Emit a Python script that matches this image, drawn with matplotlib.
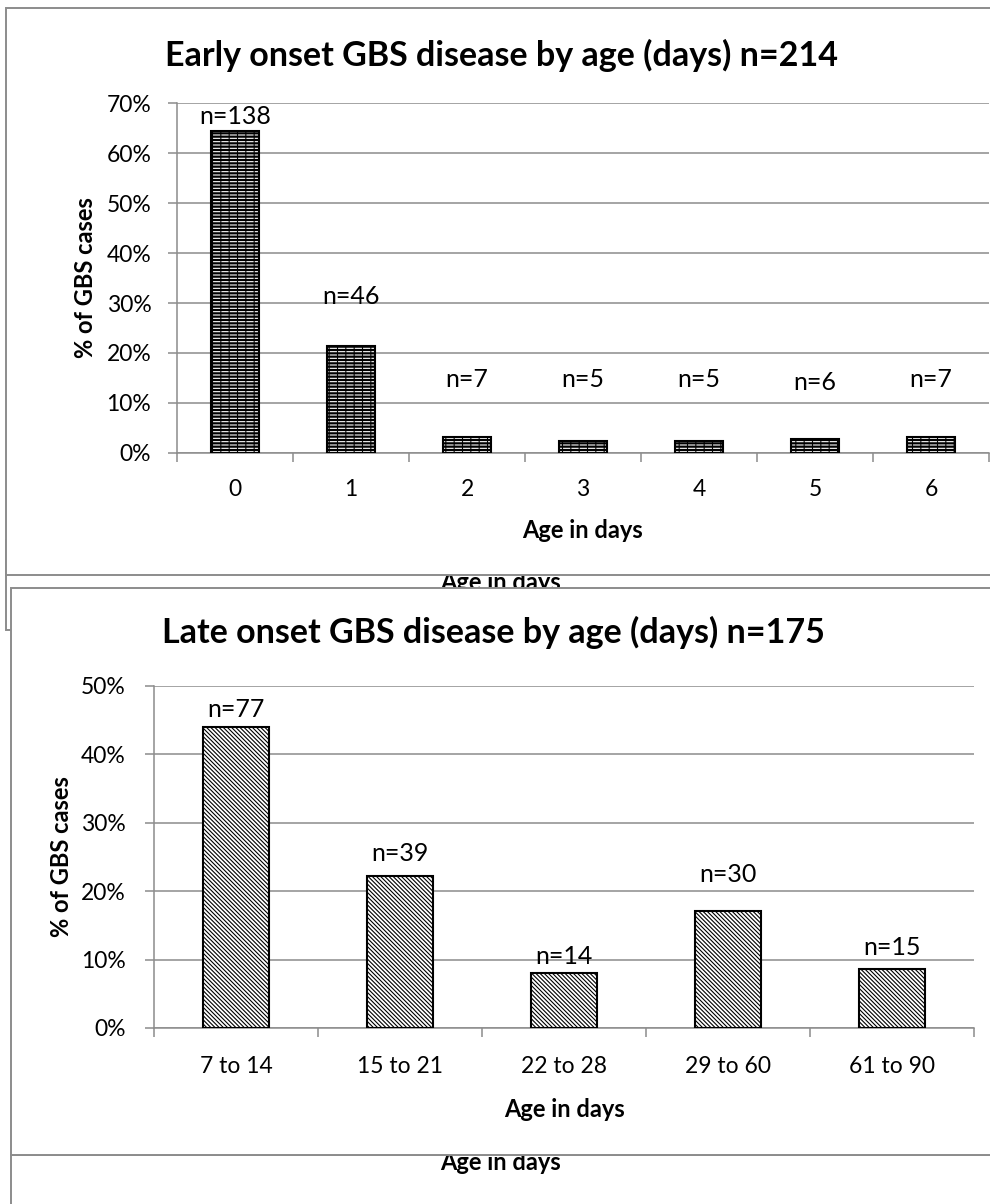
import matplotlib
matplotlib.use("Agg")
import matplotlib.pyplot as plt
from matplotlib.patches import Rectangle
from matplotlib.ticker import PercentFormatter

plt.rcParams["font.family"] = ["Lato", "DejaVu Sans"]
plt.rcParams["hatch.linewidth"] = 0.8

# data
early_ages = ["0", "1", "2", "3", "4", "5", "6"]
early_counts = [138, 46, 7, 5, 5, 6, 7]
early_total = 214

late_ages = ["7 to 14", "15 to 21", "22 to 28", "29 to 60", "61 to 90"]
late_counts = [77, 39, 14, 30, 15]
late_total = 175

# the n= labels were placed by hand in the original (in % units)
early_label_y = [67.2, 31.2, 14.6, 14.6, 14.6, 14.0, 14.6]
late_label_y = [46.6, 25.5, 10.5, 22.5, 11.8]

W, H = 990, 1204
GRAY = "#8c8c8c"


def fx(px):
    return px / W


def fy(py):
    return 1 - py / H


def panel(fig, x0, y0, x1, y1, z):
    fig.patches.append(Rectangle((fx(x0), fy(y1)), fx(x1) - fx(x0), fy(y0) - fy(y1),
                                 transform=fig.transFigure, facecolor="white",
                                 edgecolor=GRAY, linewidth=1.4, zorder=z))


def style_axes(ax, n, ymax, step, ypad, xpad, xlabelpad):
    ax.set_zorder(5)
    ax.patch.set_visible(False)
    ax.set_xlim(-0.5, n - 0.5)
    ax.set_ylim(0, ymax)
    ax.set_yticks([v for v in range(0, ymax + 1, step)])
    ax.yaxis.set_major_formatter(PercentFormatter(decimals=0))
    ax.grid(axis="y", color=GRAY, linewidth=1.1)
    ax.set_axisbelow(True)
    for s in ["top", "right"]:
        ax.spines[s].set_visible(False)
    for s in ["left", "bottom"]:
        ax.spines[s].set_color(GRAY)
        ax.spines[s].set_linewidth(1.1)
    ax.set_xticks(range(n))
    ax.set_xticks([i - 0.5 for i in range(n + 1)], minor=True)
    ax.tick_params(axis="x", which="major", length=0, pad=xpad, labelsize=16.5)
    ax.tick_params(axis="x", which="minor", length=6.5, width=1.1, color=GRAY)
    ax.tick_params(axis="y", length=6.5, width=1.1, color=GRAY, pad=ypad, labelsize=16.5)
    ax.set_ylabel("% of GBS cases", fontsize=17, fontweight="bold")
    ax.set_xlabel("Age in days", fontsize=17, fontweight="bold", labelpad=xlabelpad)


fig = plt.figure(figsize=(W / 100, H / 100), dpi=100)

# stacked chart frames, like pasted objects overlapping each other
panel(fig, 6, 540, 1005, 630, 0.5)
fig.text(fx(500), fy(590), "Age in days", ha="center", va="baseline",
         fontsize=17, fontweight="bold", zorder=0.6)
panel(fig, 6, 8, 1005, 575, 1)
panel(fig, 11, 1155, 1005, 1230, 1.5)
fig.text(fx(500), fy(1163), "Age in days", ha="center", va="center",
         fontsize=17, fontweight="bold", zorder=1.6)
panel(fig, 11, 588, 1005, 1155, 2)

# early onset
ax1 = fig.add_axes([fx(177), fy(453), fx(989) - fx(177), fy(103) - fy(453)])
early_pct = [c / early_total * 100 for c in early_counts]
x1 = range(len(early_ages))
ax1.bar(x1, early_pct, width=0.41, color="black", edgecolor="white",
        hatch="-----", linewidth=0, zorder=3)
ax1.bar(x1, early_pct, width=0.41, color="none", edgecolor="black",
        hatch="||", linewidth=1.5, zorder=4)
for i, c in enumerate(early_counts):
    ax1.text(i, early_label_y[i], f"n={c}", ha="center", va="center", fontsize=18, zorder=6)
style_axes(ax1, len(early_ages), 70, 10, ypad=12, xpad=19, xlabelpad=13.6)
ax1.set_xticklabels(early_ages)
ax1.yaxis.set_label_coords((97 - 177) / (989 - 177), 0.5)
fig.text(fx(501), fy(55), "Early onset GBS disease by age (days) n=214",
         ha="center", va="center", fontsize=24.5, fontweight="bold", zorder=6)

# late onset
ax2 = fig.add_axes([fx(154), fy(1028), fx(974) - fx(154), fy(686) - fy(1028)])
late_pct = [c / late_total * 100 for c in late_counts]
x2 = range(len(late_ages))
ax2.bar(x2, late_pct, width=0.40, color="white", edgecolor="black",
        hatch="\\" * 8, linewidth=1.5, zorder=3)
for i, c in enumerate(late_counts):
    ax2.text(i, late_label_y[i], f"n={c}", ha="center", va="center", fontsize=18, zorder=6)
style_axes(ax2, len(late_ages), 50, 10, ypad=14, xpad=20, xlabelpad=15.5)
ax2.set_xticklabels(late_ages)
ax2.yaxis.set_label_coords((73 - 154) / (974 - 154), 0.5)
fig.text(fx(493), fy(632), "Late onset GBS disease by age (days) n=175",
         ha="center", va="center", fontsize=24.5, fontweight="bold", zorder=6)

fig.savefig("out.png", dpi=100)
